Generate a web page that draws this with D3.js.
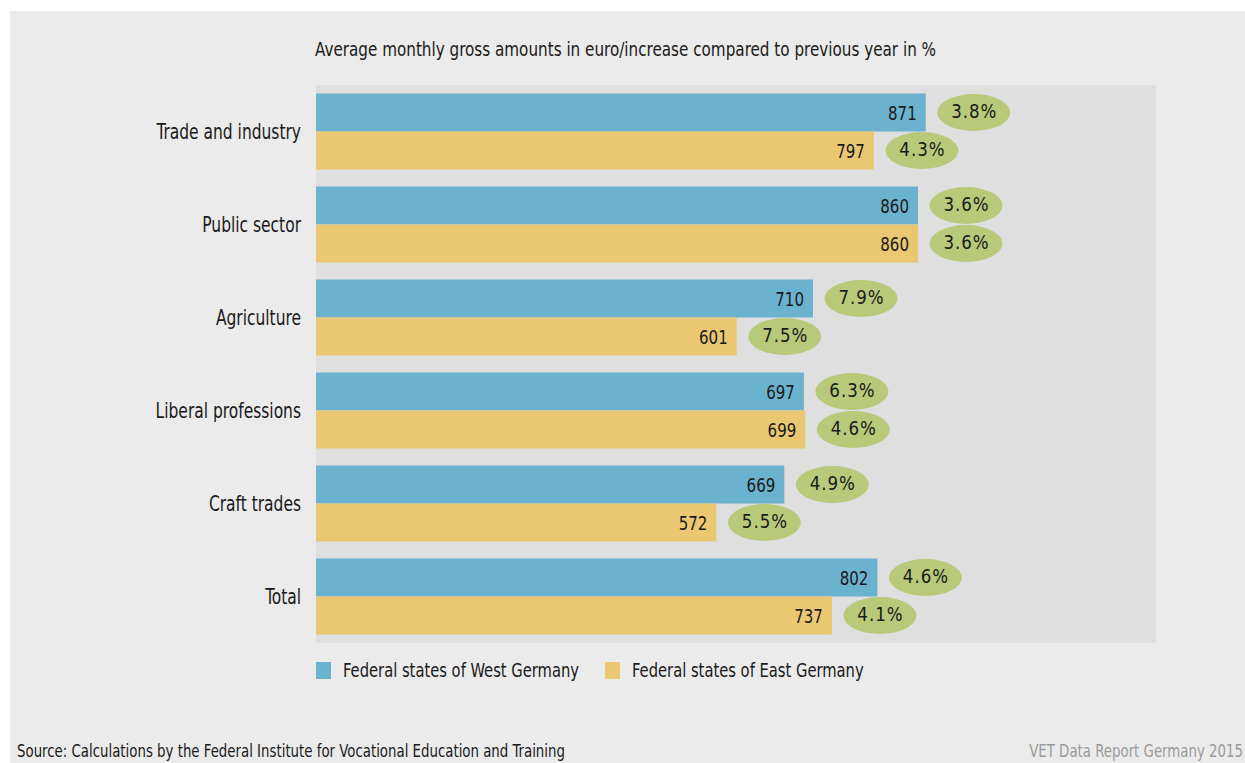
<!DOCTYPE html>
<html>
<head>
<meta charset="utf-8">
<script src="https://cdn.jsdelivr.net/npm/d3@7"></script>
<style>
  html, body { margin: 0; padding: 0; background: #ffffff; }
  svg { display: block; }
  text { font-family: "DejaVu Sans Condensed", "DejaVu Sans", sans-serif; fill: #1a1a1a; }
</style>
</head>
<body>
<svg id="chart" width="1245" height="763"></svg>
<script>
const categories = ["Trade and industry", "Public sector", "Agriculture", "Liberal professions", "Craft trades", "Total"];
const seriesNames = ["Federal states of West Germany", "Federal states of East Germany"];
const westValues = [871, 860, 710, 697, 669, 802];
const eastValues = [797, 860, 601, 699, 572, 737];
const westIncrease = ["3.8%", "3.6%", "7.9%", "6.3%", "4.9%", "4.6%"];
const eastIncrease = ["4.3%", "3.6%", "7.5%", "4.6%", "5.5%", "4.1%"];
const titleText = "Average monthly gross amounts in euro/increase compared to previous year in %";
const sourceText = "Source: Calculations by the Federal Institute for Vocational Education and Training";
const footerText = "VET Data Report Germany 2015";

const colors = { west: "#6bb2cf", east: "#eac872", bubble: "#b8c97a", panel: "#dfdfdf", bg: "#ebebeb" };

const svg = d3.select("#chart");

// helper: place a horizontally condensed text
function place(sel, xf, yf, sx) {
  return sel.attr("transform", (d, i) => `translate(${xf(d, i)},${yf(d, i)}) scale(${sx},1)`);
}

// outer background
svg.append("rect").attr("x", 10).attr("y", 11).attr("width", 1235).attr("height", 752).attr("fill", colors.bg);

const mLeft = 316, mRight = 1156, mTop = 85, mBottom = 643;

// panel
svg.append("rect").attr("x", mLeft).attr("y", mTop).attr("width", mRight - mLeft).attr("height", mBottom - mTop).attr("fill", colors.panel);

const x = d3.scaleLinear().domain([0, 1200]).range([mLeft, mRight]);
const y = d3.scaleBand().domain(categories).range([mTop, mBottom]).paddingInner(17 / 93).paddingOuter(0.0914);
const ySub = d3.scaleBand().domain(["west", "east"]).range([0, y.bandwidth()]).padding(0);

const data = [];
categories.forEach((c, i) => {
  data.push({ cat: c, key: "west", value: westValues[i], inc: westIncrease[i] });
  data.push({ cat: c, key: "east", value: eastValues[i], inc: eastIncrease[i] });
});

// title
place(svg.append("text").datum(titleText), () => 315, () => 56, 0.89)
  .attr("font-size", 19).text(d => d);

// category labels
place(svg.append("g").selectAll("text").data(categories).join("text"),
  () => 301, d => y(d) + y.bandwidth() / 2, 0.82)
  .attr("dy", "0.36em")
  .attr("text-anchor", "end")
  .attr("font-size", 21)
  .text(d => d);

const g = svg.append("g");
g.selectAll("rect.bar").data(data).join("rect")
  .attr("class", "bar")
  .attr("x", x(0))
  .attr("y", d => y(d.cat) + ySub(d.key))
  .attr("width", d => x(d.value) - x(0))
  .attr("height", ySub.bandwidth())
  .attr("fill", d => colors[d.key]);

place(g.selectAll("text.val").data(data).join("text").attr("class", "val"),
  d => x(d.value) - 9, d => y(d.cat) + ySub(d.key) + ySub.bandwidth() / 2, 0.88)
  .attr("dy", "0.38em")
  .attr("text-anchor", "end")
  .attr("font-size", 19)
  .text(d => d.value);

g.selectAll("ellipse").data(data).join("ellipse")
  .attr("cx", d => x(d.value) + 48)
  .attr("cy", d => y(d.cat) + ySub(d.key) + ySub.bandwidth() / 2)
  .attr("rx", 36.5)
  .attr("ry", 18.5)
  .attr("fill", colors.bubble);

place(g.selectAll("text.inc").data(data).join("text").attr("class", "inc"),
  d => x(d.value) + 48.5, d => y(d.cat) + ySub(d.key) + ySub.bandwidth() / 2, 0.95)
  .attr("dy", "0.3em")
  .attr("text-anchor", "middle")
  .attr("font-size", 19.5)
  .attr("letter-spacing", 1)
  .text(d => d.inc);

// legend
const legend = svg.append("g");
const legendX = [316, 605];
seriesNames.forEach((name, i) => {
  const key = i === 0 ? "west" : "east";
  legend.append("rect").attr("x", legendX[i]).attr("y", 662).attr("width", 15).attr("height", 17).attr("fill", colors[key]);
  place(legend.append("text").datum(name), () => legendX[i] + 27, () => 677, 0.82)
    .attr("font-size", 20).text(d => d);
});

// footer
place(svg.append("text").datum(sourceText), () => 17, () => 757, 0.873)
  .attr("font-size", 17).text(d => d);
place(svg.append("text").datum(footerText), () => 1243, () => 757, 0.873)
  .attr("font-size", 17).attr("text-anchor", "end").style("fill", "#9a9a9a").text(d => d);
</script>
</body>
</html>
